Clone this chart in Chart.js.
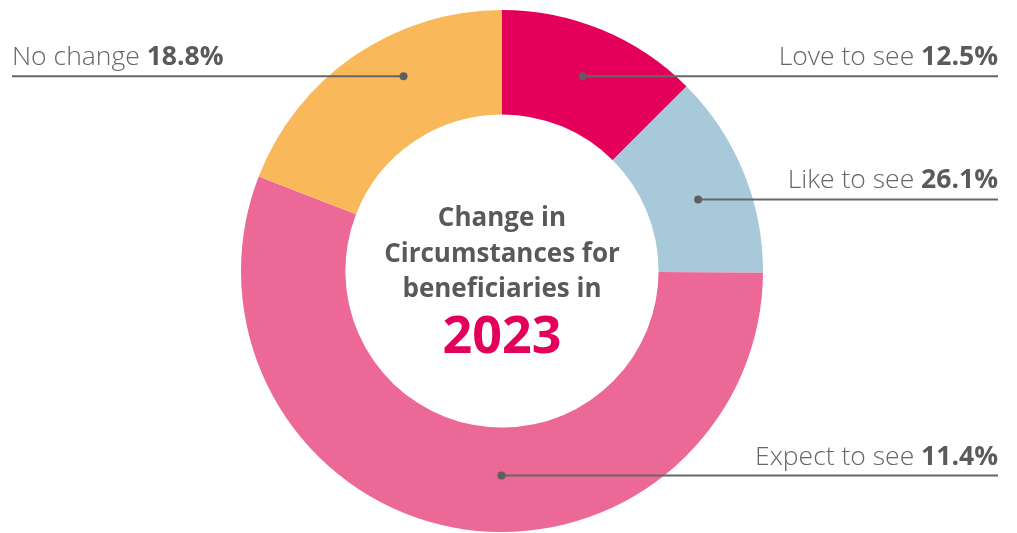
<!DOCTYPE html>
<html>
<head>
<meta charset="utf-8">
<script src="https://cdn.jsdelivr.net/npm/chart.js@4.4.0/dist/chart.umd.min.js"></script>
<style>
  html, body { margin: 0; padding: 0; background: #fff; }
  #wrap { width: 1017px; height: 533px; position: relative; }
</style>
</head>
<body>
<div id="wrap"><canvas id="myChart"></canvas></div>
<script>
// categories, in drawing order (clockwise from 12 o'clock)
const categories = ["Love to see", "Like to see", "Expect to see", "No change"];
// slice sizes as drawn in the picture
const sliceValues = [12.5, 12.6, 55.8, 19.1];
// percentages printed in the labels
const labelPercents = ["12.5%", "26.1%", "11.4%", "18.8%"];
const sliceColors = ["#E4005A", "#A7C9DA", "#EC6896", "#F9B95B"];
const centerTitle = ["Change in", "Circumstances for", "beneficiaries in"];
const centerYear = "2023";

// where the callout dot sits: fraction along the arc, fraction across the ring
const calloutFrac = [0.5, 0.55, 0.447, 0.61];
const calloutRing = [0.52, 0.5, 0.46, 0.59];
const calloutSide = ["right", "right", "right", "left"];

const calloutPlugin = {
    id: "callouts",
    afterDraw(chart) {
        const ctx = chart.ctx;
        const meta = chart.getDatasetMeta(0);
        const lightFont = '300 26.5px "Open Sans"';
        const boldFont = 'bold 26.5px "Open Sans"';

        meta.data.forEach((arc, i) => {
            const p = arc.getProps(["x", "y", "startAngle", "endAngle", "innerRadius", "outerRadius"], true);
            const a = p.startAngle + calloutFrac[i] * (p.endAngle - p.startAngle);
            const r = p.innerRadius + calloutRing[i] * (p.outerRadius - p.innerRadius);
            const px = p.x + r * Math.cos(a);
            const py = p.y + r * Math.sin(a);
            const endX = calloutSide[i] === "left" ? 12 : 998;

            ctx.save();
            ctx.strokeStyle = "#666";
            ctx.lineWidth = 2;
            ctx.beginPath();
            ctx.moveTo(px, py);
            ctx.lineTo(endX, py);
            ctx.stroke();
            ctx.fillStyle = "#5f5f5f";
            ctx.beginPath();
            ctx.arc(px, py, 4, 0, Math.PI * 2);
            ctx.fill();

            // label: light category + bold percent
            const light = categories[i] + " ";
            const bold = labelPercents[i];
            const baseY = py - 11;
            ctx.textBaseline = "alphabetic";
            ctx.font = lightFont;
            const lw = ctx.measureText(light).width;
            ctx.font = boldFont;
            const bw = ctx.measureText(bold).width;
            let x0 = calloutSide[i] === "left" ? endX : endX - lw - bw;
            ctx.textAlign = "left";
            ctx.font = lightFont;
            ctx.fillStyle = "#666";
            ctx.fillText(light, x0, baseY);
            ctx.font = boldFont;
            ctx.fillStyle = "#5a5a5a";
            ctx.fillText(bold, x0 + lw, baseY);
            ctx.restore();
        });

        // centre text
        const c = meta.data[0];
        const cx = c.x, cy = c.y;
        ctx.save();
        ctx.textAlign = "center";
        ctx.textBaseline = "alphabetic";
        ctx.fillStyle = "#595959";
        ctx.font = 'bold 26px "Open Sans"';
        centerTitle.forEach((t, k) => {
            ctx.fillText(t, cx, cy - 45 + k * 35.5);
        });
        ctx.fillStyle = "#E4005A";
        ctx.font = 'bold 52px "Open Sans"';
        ctx.fillText(centerYear, cx, cy + 82);
        ctx.restore();
    }
};

const chart = new Chart(document.getElementById("myChart").getContext("2d"), {
    type: "doughnut",
    data: {
        labels: categories,
        datasets: [{
            data: sliceValues,
            backgroundColor: sliceColors,
            borderWidth: 0,
            hoverOffset: 0
        }]
    },
    options: {
        responsive: true,
        maintainAspectRatio: false,
        animation: false,
        cutout: "60%",
        layout: { padding: { top: 10, bottom: 1, left: 0, right: 13 } },
        plugins: {
            legend: { display: false },
            tooltip: { enabled: false }
        }
    },
    plugins: [calloutPlugin]
});
</script>
</body>
</html>
